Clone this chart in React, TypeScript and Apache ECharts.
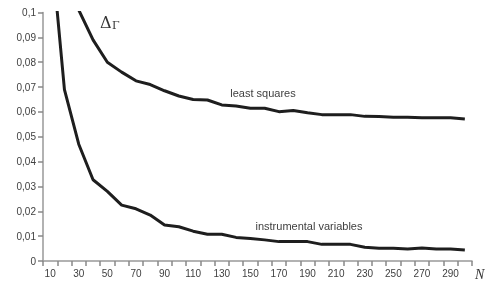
import React, { useEffect, useRef } from "react";
import * as echarts from "echarts";

const categories = ["10","20","30","40","50","60","70","80","90","100","110","120","130","140","150","160","170","180","190","200","210","220","230","240","250","260","270","280","290","300"];
const leastSquares = [0.16,0.125,0.101,0.089,0.080,0.076,0.0725,0.071,0.0685,0.0664,0.065,0.0648,0.0628,0.0624,0.0615,0.0615,0.0601,0.0606,0.0597,0.0589,0.0589,0.0589,0.0582,0.0581,0.0578,0.0578,0.0576,0.0576,0.0576,0.0571];
const instrumental = [0.131,0.069,0.047,0.0327,0.028,0.0225,0.021,0.0185,0.0145,0.0138,0.012,0.0108,0.0108,0.0095,0.0091,0.0085,0.0078,0.0078,0.0078,0.0067,0.0067,0.0067,0.0055,0.0051,0.0051,0.0048,0.0052,0.0048,0.0048,0.0044];
const yTickFormat = (v: number) => String(+v.toFixed(2)).replace(".", ",");

export default function App() {
  const ref = useRef<HTMLDivElement>(null);
  useEffect(() => {
    const chart = echarts.init(ref.current!, null, { renderer: "svg" });
    const axisColor = "#999999";
    chart.setOption({
      animation: false,
      grid: { left: 43, right: 14, top: 12.5, bottom: 26, containLabel: false },
      xAxis: {
        type: "category",
        data: categories,
        boundaryGap: true,
        axisLine: { show: true, lineStyle: { color: axisColor, width: 1.5 } },
        axisTick: { show: true, inside: false, interval: 0, alignWithLabel: false, length: 5, lineStyle: { color: "#888888", width: 1.5 } },
        axisLabel: { interval: 1, color: "#404040", fontFamily: "Liberation Sans", fontSize: 10, margin: 7 },
        splitLine: { show: false },
      },
      yAxis: {
        type: "value",
        min: 0,
        max: 0.1,
        interval: 0.01,
        axisLine: { show: true, lineStyle: { color: axisColor, width: 1.5 } },
        axisTick: { show: true, inside: false, length: 5, lineStyle: { color: "#888888", width: 1.5 } },
        axisLabel: { color: "#404040", fontFamily: "Liberation Sans", fontSize: 10, margin: 7, formatter: yTickFormat },
        splitLine: { show: false },
      },
      series: [
        {
          type: "line",
          data: leastSquares,
          symbol: "none",
          clip: true,
          lineStyle: { color: "#1e1e1e", width: 3 },
        },
        {
          type: "line",
          data: instrumental,
          symbol: "none",
          clip: true,
          lineStyle: { color: "#1e1e1e", width: 3 },
        },
      ],
      graphic: [
        { type: "text", x: 263, y: 93, style: { text: "least squares", font: "11px 'Liberation Sans'", fill: "#404040", align: "center", verticalAlign: "middle" } },
        { type: "text", x: 309, y: 226, style: { text: "instrumental variables", font: "11px 'Liberation Sans'", fill: "#404040", align: "center", verticalAlign: "middle" } },
        { type: "text", x: 100, y: 22, style: { text: "Δ", font: "16px 'DejaVu Serif'", fill: "#333", align: "left", verticalAlign: "middle" } },
        { type: "text", x: 112, y: 25, style: { text: "Γ", font: "11px 'DejaVu Serif'", fill: "#333", align: "left", verticalAlign: "middle" } },
        { type: "text", x: 475, y: 274, style: { text: "N", font: "italic 14px 'Liberation Serif'", fill: "#333", align: "left", verticalAlign: "middle" } },
      ],
    });
    return () => chart.dispose();
  }, []);
  return <div ref={ref} style={{ position: "fixed", left: 0, top: 0, width: 486, height: 287 }} />;
}
